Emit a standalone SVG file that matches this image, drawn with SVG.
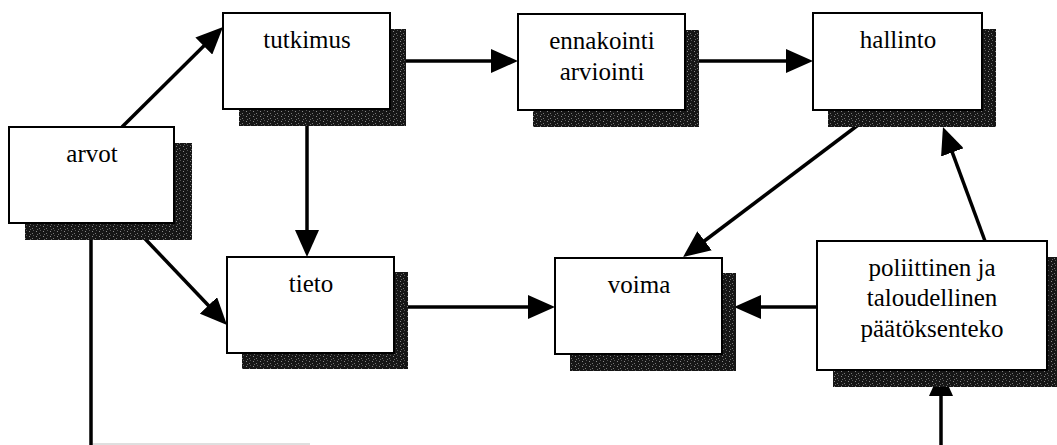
<svg xmlns="http://www.w3.org/2000/svg" width="1057" height="445" viewBox="0 0 1057 445">
<defs>
<pattern id="stip" width="7" height="5" patternUnits="userSpaceOnUse">
<rect width="7" height="5" fill="#161616"/>
<rect x="1" y="1" width="1" height="1" fill="#8a8a8a"/>
<rect x="4" y="3" width="1" height="1" fill="#777"/>
<rect x="5" y="0" width="1" height="1" fill="#555"/>
<rect x="2" y="4" width="1" height="1" fill="#666"/>
</pattern>
<marker id="ah" markerUnits="userSpaceOnUse" markerWidth="27" markerHeight="24" refX="7" refY="12" orient="auto">
<path d="M0,0 L27,12 L0,24 z" fill="#000"/>
</marker>
</defs>
<style>
.c{stroke:#000;stroke-width:3.5;fill:none}
.a{marker-end:url(#ah)}
.sh{fill:url(#stip)}
.bx{fill:#fff;stroke:#000;stroke-width:2}
.t{font-size:25px;fill:#000;text-anchor:middle}
</style>
<g id="connectors">
<line class="c a" x1="122" y1="127" x2="208.8" y2="41.1"/>
<line class="c a" x1="307" y1="120" x2="307" y2="237"/>
<line class="c a" x1="400" y1="61" x2="498" y2="61"/>
<line class="c a" x1="690" y1="61" x2="793" y2="61"/>
<line class="c a" x1="878" y1="110" x2="699" y2="245"/>
<line class="c a" x1="130" y1="223" x2="213.2" y2="310.5"/>
<line class="c" x1="91" y1="230" x2="91" y2="445"/>
<line class="c a" x1="400" y1="307" x2="535" y2="307"/>
<line class="c a" x1="817" y1="307" x2="754" y2="307"/>
<line class="c a" x1="985" y1="241" x2="949.9" y2="145.8"/>
<line class="c a" x1="941" y1="445" x2="941" y2="389"/>
<line x1="93" y1="444" x2="310" y2="444" stroke="#d4d4d4" stroke-width="1.5"/>
</g>
<g font-family="'Liberation Serif', 'Times New Roman', 'DejaVu Serif', serif">
<g id="arvot">
<rect class="sh" x="25" y="143" width="167" height="97"/>
<rect class="bx" x="9" y="127" width="165" height="96"/>
<text class="t" x="92" y="162">arvot</text>
</g>
<g id="tutkimus">
<rect class="sh" x="239" y="29" width="167" height="97"/>
<rect class="bx" x="223" y="13" width="167" height="96"/>
<text class="t" x="307" y="48">tutkimus</text>
</g>
<g id="ennakointi">
<rect class="sh" x="533" y="30" width="166" height="97"/>
<rect class="bx" x="518" y="14" width="167" height="96"/>
<text class="t" x="602" y="49">ennakointi</text>
<text class="t" x="602" y="80">arviointi</text>
</g>
<g id="hallinto">
<rect class="sh" x="828" y="29" width="168" height="98"/>
<rect class="bx" x="813" y="13" width="169" height="97"/>
<text class="t" x="898" y="48">hallinto</text>
</g>
<g id="tieto">
<rect class="sh" x="242" y="272" width="166" height="97"/>
<rect class="bx" x="227" y="257" width="167" height="96"/>
<text class="t" x="311" y="292">tieto</text>
</g>
<g id="voima">
<rect class="sh" x="570" y="273" width="166" height="98"/>
<rect class="bx" x="555" y="258" width="167" height="96"/>
<text class="t" x="639" y="293">voima</text>
</g>
<g id="poliittinen">
<rect class="sh" x="833" y="257" width="224" height="130"/>
<rect class="bx" x="817" y="241" width="230" height="129"/>
<text class="t" x="932" y="276">poliittinen ja</text>
<text class="t" x="932" y="306">taloudellinen</text>
<text class="t" x="932" y="337">päätöksenteko</text>
</g>
</g>
</svg>
